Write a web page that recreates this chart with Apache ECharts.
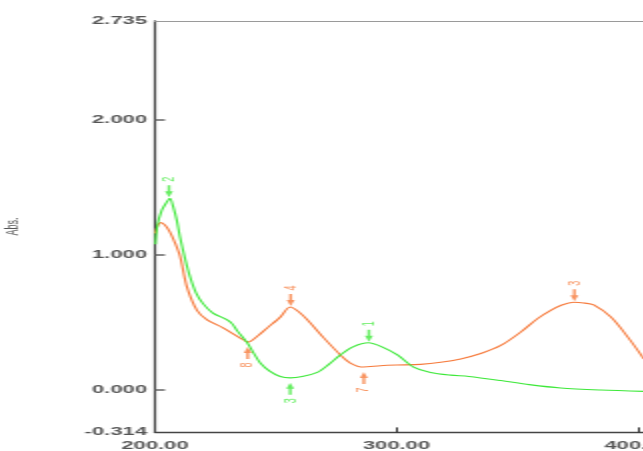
<!DOCTYPE html>
<html>
<head>
<meta charset="utf-8">
<script src="https://cdn.jsdelivr.net/npm/echarts@6/dist/echarts.min.js"></script>
<style>
html,body{margin:0;padding:0;background:#fff;overflow:hidden;}
#wrap{width:643px;height:451px;overflow:hidden;position:relative;}
#chart{width:321.5px;height:451px;transform:scaleX(2);transform-origin:0 0;position:absolute;left:0;top:0;}
</style>
</head>
<body>
<div id="wrap"><div id="chart"></div></div>
<script>
// Wavelength (nm) and absorbance for the two spectra
const greenX = [200.2,201.0,202.8,204.8,206.2,207.5,209.0,210.4,212.5,214.5,217.0,219.9,224.0,229.9,232.0,234.0,238.2,241.0,243.6,247.5,251.9,256.0,261.0,267.2,272.0,276.8,282.0,288.4,294.0,300.4,307.1,314.1,322.4,330.0,343.2,355.0,368.0,384.6,402.5];
const greenY = [1.08,1.22,1.33,1.39,1.42,1.36,1.26,1.13,0.97,0.84,0.72,0.64,0.57,0.52,0.49,0.44,0.35,0.27,0.20,0.14,0.10,0.09,0.10,0.13,0.19,0.26,0.32,0.35,0.32,0.26,0.17,0.13,0.11,0.10,0.07,0.04,0.015,0.0,-0.01];
const orangeX = [200.0,201.2,202.4,204.2,206.2,208.3,210.4,213.3,217.4,221.6,228.2,235.3,238.6,242.5,246.5,251.9,256.0,259.5,263.1,269.7,276.8,280.9,286.3,293.4,300.0,310.0,318.3,326.6,334.9,343.2,351.5,358.5,363.9,368.5,373.4,377.5,381.7,388.8,395.9,402.5];
const orangeY = [1.16,1.22,1.24,1.22,1.17,1.09,0.99,0.76,0.59,0.52,0.46,0.385,0.355,0.40,0.46,0.54,0.615,0.58,0.52,0.39,0.26,0.20,0.17,0.18,0.185,0.19,0.205,0.23,0.27,0.33,0.43,0.53,0.59,0.63,0.65,0.645,0.63,0.54,0.39,0.23];
// Peak / valley picks: [wavelength, abs, number]
const greenPeaks = [[205.8,1.42,'2'],[288.6,0.35,'1']];
const greenValleys = [[256.0,0.09,'3']];
const orangePeaks = [[256.2,0.615,'4'],[373.7,0.65,'3']];
const orangeValleys = [[238.4,0.355,'8'],[286.5,0.17,'7']];
// Axis tick labels
const xTicks = [200,300,400];
const yTicks = [-0.314,0,1,2,2.735];

const GREEN = '#3ee83a';
const ORANGE = '#f6793a';
const zip = (a,b)=>a.map((v,i)=>[v,b[i]]);
const downArrow = 'path://M2.6,0L5.4,0L5.4,6L8,6L4,12L0,6L2.6,6Z';
const upArrow = 'path://M4,0L8,6L5.4,6L5.4,12L2.6,12L2.6,6L0,6Z';

function picks(data,color,peak){
  return {
    type:'scatter', silent:true, z:5,
    data:data.map(d=>({value:[d[0],d[1]],name:d[2]})),
    symbol: peak?downArrow:upArrow,
    symbolSize:[4,12],
    symbolOffset:[0, peak?-7:11],
    itemStyle:{color:color},
    label:{show:true, formatter:'{b}', position:'inside', rotate:90,
      offset:[peak?12:-12,0], color:color, fontSize:9, fontFamily:'Liberation Sans'}
  };
}

const chart = echarts.init(document.getElementById('chart'));
chart.setOption({
  animation:false,
  grid:{left:77.5,right:0,top:20.8,bottom:18.6,outerBoundsMode:'none',containLabel:false},
  xAxis:[{
    type:'value', min:200, max:402.5,
    axisLine:{show:true,onZero:false,lineStyle:{color:'#444',width:1.3}},
    axisTick:{show:true,inside:true,length:5,customValues:[300,400],lineStyle:{color:'#333',width:1}},
    axisLabel:{customValues:xTicks,formatter:v=>v.toFixed(2),color:'#555',fontSize:11,fontWeight:'bold',fontFamily:'Liberation Sans',margin:8},
    splitLine:{show:false}
  },{
    type:'value', position:'top', min:200, max:402.5,
    axisLine:{show:true,onZero:false,lineStyle:{color:'#9a9a9a',width:1}},
    axisTick:{show:false}, axisLabel:{show:false}, splitLine:{show:false}
  }],
  yAxis:{
    type:'value', min:-0.314, max:2.735,
    name:'Abs.', nameLocation:'middle', nameRotate:90, nameGap:66,
    nameTextStyle:{color:'#555',fontSize:9,fontFamily:'Liberation Sans'},
    axisLine:{show:true,lineStyle:{color:'#444',width:1.2}},
    axisTick:{show:true,inside:true,length:5,customValues:[0,1,2],lineStyle:{color:'#666',width:1.5}},
    axisLabel:{customValues:yTicks,formatter:v=>v.toFixed(3),color:'#555',fontSize:11,fontWeight:'bold',fontFamily:'Liberation Sans',margin:4},
    splitLine:{show:false}
  },
  series:[
    {type:'line', data:zip(orangeX,orangeY), smooth:0.3, showSymbol:false, silent:true,
      lineStyle:{color:ORANGE,width:1.1}},
    {type:'line', data:zip(greenX,greenY), smooth:0.3, showSymbol:false, silent:true,
      lineStyle:{color:GREEN,width:1.1}},
    picks(greenPeaks,GREEN,true),
    picks(greenValleys,GREEN,false),
    picks(orangePeaks,ORANGE,true),
    picks(orangeValleys,ORANGE,false)
  ]
});
</script>
</body>
</html>
